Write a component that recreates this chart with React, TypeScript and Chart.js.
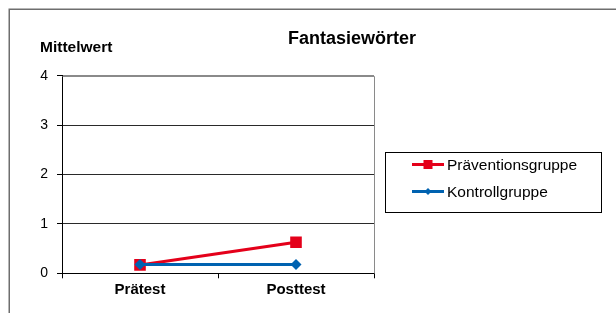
import React, { useEffect, useRef } from 'react';
import { Chart, registerables } from 'chart.js';

Chart.register(...registerables);

const categories = ['Prätest', 'Posttest'];
const praeventionValues = [0.17, 0.63];
const kontrollValues = [0.18, 0.18];
const seriesNames = ['Präventionsgruppe', 'Kontrollgruppe'];
const seriesColors = ['#e4001a', '#0062b0'];
const yMin = 0;
const yMax = 4;
const yStep = 1;
const titleText = 'Fantasiewörter';
const yAxisTitle = 'Mittelwert';

const FONT = '"Liberation Sans", Arial, sans-serif';

const decorPlugin = {
  id: 'decor',
  afterDraw(chart: any) {
    const ctx = chart.ctx as CanvasRenderingContext2D;
    const area = chart.chartArea;
    ctx.save();
    // outer frame
    ctx.strokeStyle = '#6e6e6e';
    ctx.lineWidth = 1.5;
    ctx.strokeRect(9.25, 9.25, 700, 400);

    // plot area border (top/right)
    ctx.strokeStyle = '#8a8a8a';
    ctx.lineWidth = 1;
    ctx.beginPath();
    ctx.moveTo(Math.round(area.left) + 0.5, Math.round(area.top) + 0.5);
    ctx.lineTo(Math.round(area.right) + 0.5, Math.round(area.top) + 0.5);
    ctx.lineTo(Math.round(area.right) + 0.5, Math.round(area.bottom) + 0.5);
    ctx.stroke();

    // title
    ctx.fillStyle = '#000';
    ctx.font = `bold 18px ${FONT}`;
    ctx.textAlign = 'center';
    ctx.textBaseline = 'alphabetic';
    ctx.fillText(titleText, 352, 44);

    // y axis title
    ctx.font = `bold 15.5px ${FONT}`;
    ctx.textAlign = 'left';
    ctx.fillText(yAxisTitle, 40, 52);

    // legend
    const bx = 385, by = 152, bw = 216, bh = 60;
    ctx.strokeStyle = '#000';
    ctx.lineWidth = 1;
    ctx.strokeRect(bx + 0.5, by + 0.5, bw, bh);
    const rows = [164.5, 191.5];
    chart.data.datasets.forEach((ds: any, i: number) => {
      const y = rows[i];
      ctx.strokeStyle = ds.borderColor;
      ctx.lineWidth = 3;
      ctx.beginPath();
      ctx.moveTo(412, y);
      ctx.lineTo(444, y);
      ctx.stroke();
      ctx.fillStyle = ds.borderColor;
      if (ds.pointStyle === 'rect') {
        ctx.fillRect(428 - 4.5, y - 4.5, 9, 9);
      } else {
        ctx.beginPath();
        ctx.moveTo(428 - 3.5, y);
        ctx.lineTo(428, y - 3.5);
        ctx.lineTo(428 + 3.5, y);
        ctx.lineTo(428, y + 3.5);
        ctx.closePath();
        ctx.fill();
      }
      ctx.fillStyle = '#000';
      ctx.font = `15.5px ${FONT}`;
      ctx.textAlign = 'left';
      ctx.textBaseline = 'alphabetic';
      ctx.fillText(ds.label, 447, y + 5.5);
    });
    ctx.restore();
  },
};

export default function App() {
  const ref = useRef<HTMLCanvasElement | null>(null);
  useEffect(() => {
    if (!ref.current) return;
    const chart = new Chart(ref.current, {
      type: 'line',
      data: {
        labels: categories,
        datasets: [
          {
            label: seriesNames[0],
            data: praeventionValues,
            borderColor: seriesColors[0],
            backgroundColor: seriesColors[0],
            borderWidth: 3,
            pointStyle: 'rect',
            pointRadius: 8.2,
            pointBorderWidth: 0,
            order: 1,
          },
          {
            label: seriesNames[1],
            data: kontrollValues,
            borderColor: seriesColors[1],
            backgroundColor: seriesColors[1],
            borderWidth: 3,
            pointStyle: 'rectRot',
            pointRadius: 5.5,
            pointBorderWidth: 0,
            order: 0,
          },
        ],
      },
      options: {
        animation: false,
        responsive: true,
        maintainAspectRatio: false,
        layout: { padding: { left: 26, right: 242, top: 75.7, bottom: 9.7 } },
        plugins: { legend: { display: false }, title: { display: false }, tooltip: { enabled: false } },
        scales: {
          x: {
            type: 'category',
            offset: true,
            afterFit: (s: any) => { s.height = 30; },
            grid: { drawOnChartArea: false, drawTicks: true, tickLength: 5, tickColor: '#000', offset: true },
            border: { color: '#000', width: 1 },
            ticks: { color: '#000', font: { family: FONT, size: 15, weight: 'bold' }, padding: 3 },
          },
          y: {
            min: yMin,
            max: yMax,
            afterFit: (s: any) => { s.width = 36; },
            grid: {
              color: (c: any) => (c.tick && c.tick.value === yMax ? '#8a8a8a' : '#2a2a2a'),
              tickColor: '#000',
              tickLength: 5,
            },
            border: { color: '#000', width: 1 },
            ticks: { stepSize: yStep, color: '#000', font: { family: FONT, size: 14 }, padding: 9 },
          },
        },
      },
      plugins: [decorPlugin],
    });
    return () => chart.destroy();
  }, []);
  return (
    <div style={{ position: 'fixed', left: 0, top: 0, width: 616, height: 313, background: '#fff' }}>
      <canvas ref={ref} />
    </div>
  );
}
